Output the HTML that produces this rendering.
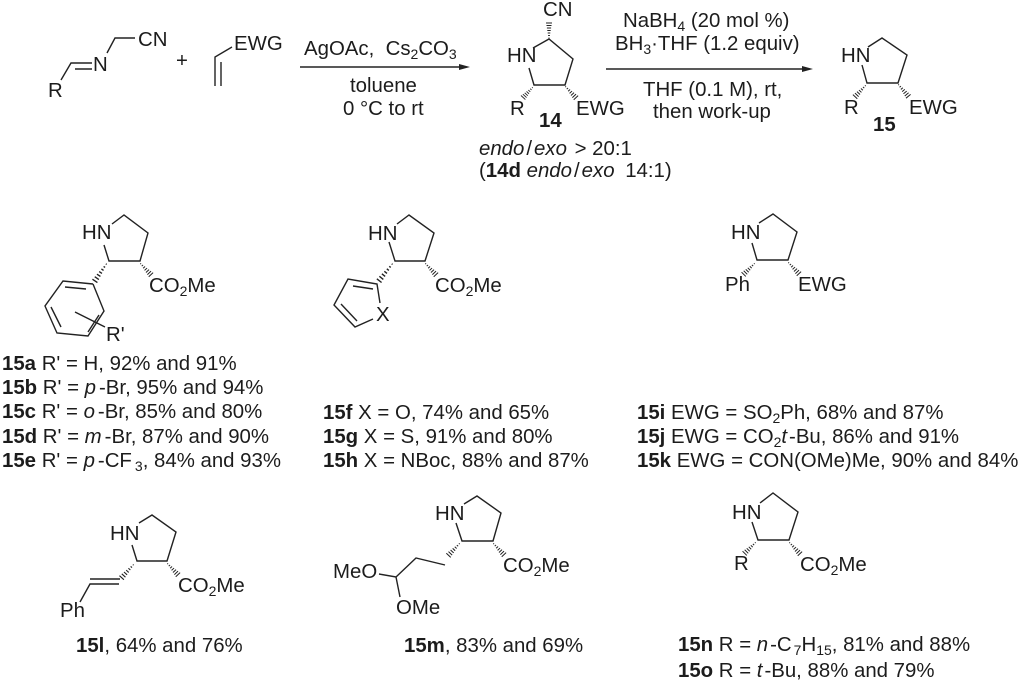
<!DOCTYPE html>
<html><head><meta charset="utf-8"><style>
html,body{margin:0;padding:0;background:#fff}
svg{display:block}
text{font-family:"Liberation Sans",sans-serif;font-size:20.4px;fill:#1c1c1c}
.b{font-weight:bold}.i{font-style:italic}
.s{font-size:14px}
.l{fill:none;stroke:#222;stroke-width:1.4}
</style></head><body>
<svg width="1024" height="682" viewBox="0 0 1024 682" xmlns="http://www.w3.org/2000/svg">
<defs>
<path id="h" d="M1 -.5V.5M3.5 -.9V.9M6 -1.3V1.3M8.5 -1.7V1.7M11 -2.1V2.1M13.5 -2.5V2.5M16 -3V3" fill="none" stroke="#222" stroke-width="1"/>
</defs>

<!-- top left reagents -->
<path class="l" d="M61 80L71 63H92M75 69H92M107 53L115 38H135M232 47L215 57V86M221 62V86"/>
<text x="48" y="97">R</text><text x="93" y="71">N</text><text x="138" y="46">CN</text>
<text x="176" y="67">+</text><text x="234" y="50">EWG</text>

<!-- arrow 1 -->
<path class="l" d="M300 67H462"/><path d="M459 64L470 67L459 70Z" fill="#222"/>
<text x="304" y="55">AgOAc,&#160; Cs<tspan class="s" dy="4">2</tspan><tspan dy="-4">CO</tspan><tspan class="s" dy="4">3</tspan></text>
<text x="350" y="92">toluene</text>
<text x="343" y="115">0 °C to rt</text>

<!-- 14 -->
<path class="l" d="M533 48L549 39L573 59L565 85H534L529 68"/>
<use href="#h" transform="translate(549,39) rotate(-90)"/>
<use href="#h" transform="translate(533,87) rotate(133) scale(.9,1)"/>
<use href="#h" transform="translate(565,86) rotate(47)"/>
<text x="543" y="16">CN</text><text x="507" y="62">HN</text>
<text x="510" y="115">R</text><text x="576" y="115">EWG</text>
<text x="539" y="127" class="b">14</text>
<text x="479" y="155"><tspan class="i">endo</tspan><tspan dx="2">/</tspan><tspan dx="2" class="i">exo</tspan><tspan dx="2"> &gt; 20:1</tspan></text>
<text x="479" y="177">(<tspan class="b">14d</tspan> <tspan class="i">endo</tspan><tspan dx="2">/</tspan><tspan dx="2" class="i">exo</tspan><tspan dx="5"> 14:1)</tspan></text>

<!-- arrow 2 -->
<path class="l" d="M606 69H805"/><path d="M802 66L813 69L802 72Z" fill="#222"/>
<text x="623" y="27">NaBH<tspan class="s" dy="4">4</tspan><tspan dy="-4"> (20 mol %)</tspan></text>
<text x="615" y="50">BH<tspan class="s" dy="4">3</tspan><tspan dy="-4">·THF (1.2 equiv)</tspan></text>
<text x="643" y="96">THF (0.1 M), rt,</text>
<text x="653" y="118">then work-up</text>

<!-- 15 -->
<path class="l" d="M868 47L882 38L907 55L898 83H867L862 65"/>
<use href="#h" transform="translate(866,85) rotate(133) scale(1,1)"/>
<use href="#h" transform="translate(898,84) rotate(50)"/>
<text x="841" y="62">HN</text><text x="844" y="114">R</text><text x="909" y="114">EWG</text>
<text x="873" y="131" class="b">15</text>

<!-- 15a-e -->
<path class="l" d="M112 224L124 215L148 233L140 261H109L104 245"/>
<use href="#h" transform="translate(140,263) rotate(47)"/>
<use href="#h" transform="translate(107,263) rotate(124) scale(1.35,1)"/>
<path class="l" d="M93 284L63 281L45 306L57 333L88 336L104 311L93 284M65 287L86 289M51 307L61 327M88 332L99 315M75 312L105 327"/>
<text x="82" y="239">HN</text>
<text x="149" y="292">CO<tspan class="s" dy="4">2</tspan><tspan dy="-4">Me</tspan></text>
<text x="106" y="341">R'</text>
<text x="2" y="370"><tspan class="b">15a</tspan> R' = H, 92% and 91%</text>
<text x="2" y="394"><tspan class="b">15b</tspan> R' = <tspan class="i">p</tspan><tspan dx="3">-Br, 95% and 94%</tspan></text>
<text x="2" y="418"><tspan class="b">15c</tspan> R' = <tspan class="i">o</tspan><tspan dx="3">-Br, 85% and 80%</tspan></text>
<text x="2" y="443"><tspan class="b">15d</tspan> R' = <tspan class="i">m</tspan><tspan dx="3">-Br, 87% and 90%</tspan></text>
<text x="2" y="467"><tspan class="b">15e</tspan> R' = <tspan class="i">p</tspan><tspan dx="3">-CF</tspan><tspan class="s" dy="4" dx="3">3</tspan><tspan dy="-4">, 84% and 93%</tspan></text>

<!-- 15f-h -->
<path class="l" d="M397 224L409 215L434 233L425 261H395L389 242"/>
<use href="#h" transform="translate(425,263) rotate(47)"/>
<use href="#h" transform="translate(393,263) rotate(128) scale(1.4,1)"/>
<path class="l" d="M380 303L377 284L348 279L334 305L355 327L373 319M353 286L373 289M341 304L357 321"/>
<text x="368" y="240">HN</text>
<text x="435" y="292">CO<tspan class="s" dy="4">2</tspan><tspan dy="-4">Me</tspan></text>
<text x="376" y="321">X</text>
<text x="323" y="419"><tspan class="b">15f</tspan> X = O, 74% and 65%</text>
<text x="323" y="443"><tspan class="b">15g</tspan> X = S, 91% and 80%</text>
<text x="323" y="467"><tspan class="b">15h</tspan> X = NBoc, 88% and 87%</text>

<!-- 15i-k -->
<path class="l" d="M759 223L773 214L797 232L788 260H757L752 243"/>
<use href="#h" transform="translate(788,262) rotate(47)"/>
<use href="#h" transform="translate(755,263) rotate(135)"/>
<text x="731" y="239">HN</text><text x="725" y="291">Ph</text><text x="798" y="291">EWG</text>
<text x="637" y="419"><tspan class="b">15i</tspan> EWG = SO<tspan class="s" dy="4">2</tspan><tspan dy="-4">Ph, 68% and 87%</tspan></text>
<text x="637" y="443"><tspan class="b">15j</tspan> EWG = CO<tspan class="s" dy="4">2</tspan><tspan dy="-4" class="i">t</tspan><tspan dx="2">-Bu, 86% and 91%</tspan></text>
<text x="637" y="467"><tspan class="b">15k</tspan> EWG = CON(OMe)Me, 90% and 84%</text>

<!-- 15l -->
<path class="l" d="M139 523L152 515L176 532L167 561H137L132 545"/>
<use href="#h" transform="translate(167,563) rotate(47)"/>
<use href="#h" transform="translate(134,564) rotate(132) scale(1.15,1)"/>
<path class="l" d="M120 579H90M119 584H90L80 602"/>
<text x="110" y="540">HN</text>
<text x="178" y="592">CO<tspan class="s" dy="4">2</tspan><tspan dy="-4">Me</tspan></text>
<text x="60" y="617">Ph</text>
<text x="76" y="652"><tspan class="b">15l</tspan>, 64% and 76%</text>

<!-- 15m -->
<path class="l" d="M464 504L477 496L501 513L493 541H462L456 523"/>
<use href="#h" transform="translate(493,543) rotate(47)"/>
<use href="#h" transform="translate(460,543) rotate(133) scale(1.05,1)"/>
<path class="l" d="M445 565L416 558L396 577L379 574M396 577L400 597"/>
<text x="435" y="520">HN</text>
<text x="503" y="572">CO<tspan class="s" dy="4">2</tspan><tspan dy="-4">Me</tspan></text>
<text x="333" y="578">MeO</text><text x="396" y="614">OMe</text>
<text x="404" y="652"><tspan class="b">15m</tspan>, 83% and 69%</text>

<!-- 15n-o -->
<path class="l" d="M760 503L773 493L798 512L789 540H758L752 522"/>
<use href="#h" transform="translate(789,542) rotate(47)"/>
<use href="#h" transform="translate(756,542) rotate(135)"/>
<text x="732" y="519">HN</text><text x="734" y="570">R</text>
<text x="800" y="571">CO<tspan class="s" dy="4">2</tspan><tspan dy="-4">Me</tspan></text>
<text x="678" y="651"><tspan class="b">15n</tspan> R = <tspan class="i">n</tspan><tspan dx="2">-C</tspan><tspan class="s" dy="4" dx="2">7</tspan><tspan dy="-4">H</tspan><tspan class="s" dy="4">15</tspan><tspan dy="-4">, 81% and 88%</tspan></text>
<text x="678" y="677"><tspan class="b">15o</tspan> R = <tspan class="i">t</tspan><tspan dx="2">-Bu, 88% and 79%</tspan></text>
</svg>
</body></html>
